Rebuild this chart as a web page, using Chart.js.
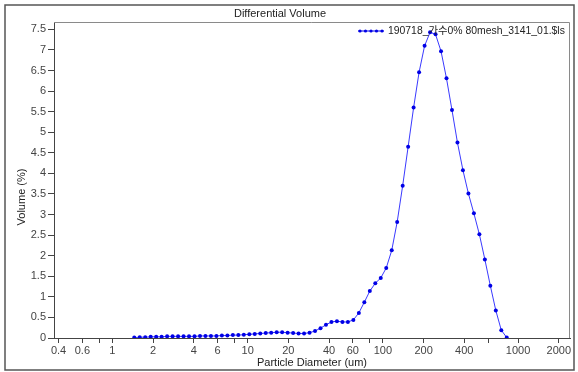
<!DOCTYPE html>
<html>
<head>
<meta charset="utf-8">
<script src="https://cdn.jsdelivr.net/npm/chart.js@4/dist/chart.umd.min.js"></script>
<style>
  html, body { margin: 0; padding: 0; background: #fff; }
  #wrap { width: 578px; height: 372px; position: relative; }
</style>
</head>
<body>
<div id="wrap"><canvas id="c" width="578" height="372"></canvas></div>
<script>
// Channel mid-point diameters (um)
const diameters = [
  1.451, 1.593, 1.749, 1.919, 2.107, 2.313, 2.539, 2.787, 3.060, 3.359,
  3.687, 4.048, 4.444, 4.878, 5.355, 5.879, 6.453, 7.084, 7.777, 8.537,
  9.371, 10.29, 11.29, 12.40, 13.61, 14.94, 16.40, 18.00, 19.76, 21.70,
  23.81, 26.14, 28.70, 31.51, 34.59, 37.97, 41.68, 45.75, 50.23, 55.14,
  60.52, 66.44, 72.94, 80.07, 87.90, 96.49, 105.9, 116.3, 127.6, 140.1,
  153.8, 168.8, 185.3, 203.5, 223.4, 245.2, 269.2, 295.5, 324.4, 356.1,
  390.9, 429.2, 471.1, 517.2, 567.8, 623.3, 684.2, 751.1, 824.5
];
// Differential volume (%)
const volume = [
  0.01, 0.02, 0.02, 0.03, 0.03, 0.03, 0.04, 0.04, 0.04, 0.04,
  0.04, 0.04, 0.05, 0.05, 0.05, 0.05, 0.06, 0.06, 0.07, 0.07,
  0.08, 0.09, 0.10, 0.11, 0.12, 0.13, 0.14, 0.14, 0.13, 0.12,
  0.11, 0.11, 0.13, 0.17, 0.24, 0.32, 0.39, 0.41, 0.39, 0.39,
  0.44, 0.61, 0.87, 1.14, 1.33, 1.46, 1.70, 2.13, 2.82, 3.70,
  4.65, 5.60, 6.46, 7.10, 7.43, 7.38, 6.97, 6.31, 5.54, 4.75,
  4.08, 3.51, 3.03, 2.52, 1.91, 1.27, 0.67, 0.19, 0.01
];
// Axis ticks
const xTicks = [0.4, 0.6, 0.8, 1, 2, 4, 6, 8, 10, 20, 40, 60, 80, 100, 200, 400, 600, 1000, 2000];
const xUnlabeled = [0.8, 8, 80, 600];
const yTicks = [0, 0.5, 1, 1.5, 2, 2.5, 3, 3.5, 4, 4.5, 5, 5.5, 6, 6.5, 7, 7.5];

const seriesName = '190718_가수0% 80mesh_3141_01.$ls';
const chartTitle = 'Differential Volume';
const xTitle = 'Particle Diameter (um)';
const yTitle = 'Volume (%)';

const FONT = 'Arial, "Liberation Sans", "Noto Sans CJK KR", sans-serif';
const BLUE = '#0000e6';

const points = diameters.map((d, i) => ({ x: d, y: volume[i] }));

const decor = {
  id: 'decor',
  beforeDraw(chart) {
    const ctx = chart.ctx;
    ctx.save();
    ctx.fillStyle = '#fff';
    ctx.fillRect(0, 0, chart.width, chart.height);
    ctx.strokeStyle = '#555';
    ctx.lineWidth = 1.5;
    ctx.strokeRect(5, 5, 569, 365);
    ctx.restore();
  },
  afterDraw(chart) {
    const ctx = chart.ctx;
    const a = chart.chartArea;
    ctx.save();
    // plot frame
    ctx.strokeStyle = '#8a8a8a';
    ctx.lineWidth = 1;
    ctx.beginPath();
    ctx.moveTo(a.left, a.top + 0.5);
    ctx.lineTo(a.right - 0.5, a.top + 0.5);
    ctx.lineTo(a.right - 0.5, a.bottom);
    ctx.stroke();
    // titles
    ctx.fillStyle = '#222';
    ctx.font = '11px ' + FONT;
    ctx.textAlign = 'center';
    ctx.textBaseline = 'middle';
    ctx.fillText(chartTitle, 280, 14);
    ctx.fillText(xTitle, (a.left + a.right) / 2, 363);
    ctx.save();
    ctx.translate(22, 197);
    ctx.rotate(-Math.PI / 2);
    ctx.fillText(yTitle, 0, 0);
    ctx.restore();
    // legend
    const ly = 31;
    ctx.strokeStyle = BLUE;
    ctx.lineWidth = 1;
    ctx.beginPath();
    ctx.moveTo(358, ly);
    ctx.lineTo(384, ly);
    ctx.stroke();
    ctx.fillStyle = BLUE;
    for (let i = 0; i < 5; i++) {
      ctx.beginPath();
      ctx.arc(360 + i * 5.5, ly, 1.6, 0, Math.PI * 2);
      ctx.fill();
    }
    ctx.fillStyle = '#222';
    ctx.textAlign = 'left';
    ctx.font = '10.4px ' + FONT;
    ctx.fillText(seriesName, 388, ly);
    ctx.restore();
  }
};

new Chart(document.getElementById('c'), {
  type: 'line',
  data: {
    datasets: [{
      label: seriesName,
      data: points,
      borderColor: '#3a3aff',
      borderWidth: 1,
      backgroundColor: BLUE,
      pointBackgroundColor: BLUE,
      pointBorderColor: BLUE,
      pointRadius: 2,
      pointBorderWidth: 0,
      tension: 0,
      fill: false
    }]
  },
  options: {
    responsive: false,
    animation: false,
    events: [],
    layout: { padding: { top: 22, right: 8, left: 0, bottom: 0 } },
    plugins: { legend: { display: false }, title: { display: false }, tooltip: { enabled: false } },
    scales: {
      x: {
        type: 'logarithmic',
        min: 0.37,
        max: 2420,
        afterFit(s) { s.height = 34; },
        afterBuildTicks(s) { s.ticks = xTicks.map(v => ({ value: v })); },
        ticks: {
          autoSkip: false,
          maxRotation: 0,
          padding: 1,
          color: '#444',
          font: { family: FONT, size: 11 },
          callback: (v) => xUnlabeled.includes(v) ? '' : String(v)
        },
        grid: { drawOnChartArea: false, tickLength: 5, color: '#444' },
        border: { color: '#444', width: 1 }
      },
      y: {
        min: 0,
        max: 7.68,
        afterFit(s) { s.width = 54; },
        afterBuildTicks(s) { s.ticks = yTicks.map(v => ({ value: v })); },
        ticks: {
          autoSkip: false,
          padding: 2,
          color: '#444',
          font: { family: FONT, size: 11 },
          callback: (v) => String(v)
        },
        grid: { drawOnChartArea: false, tickLength: 6, color: '#444' },
        border: { color: '#444', width: 1 }
      }
    }
  },
  plugins: [decor]
});
</script>
</body>
</html>
